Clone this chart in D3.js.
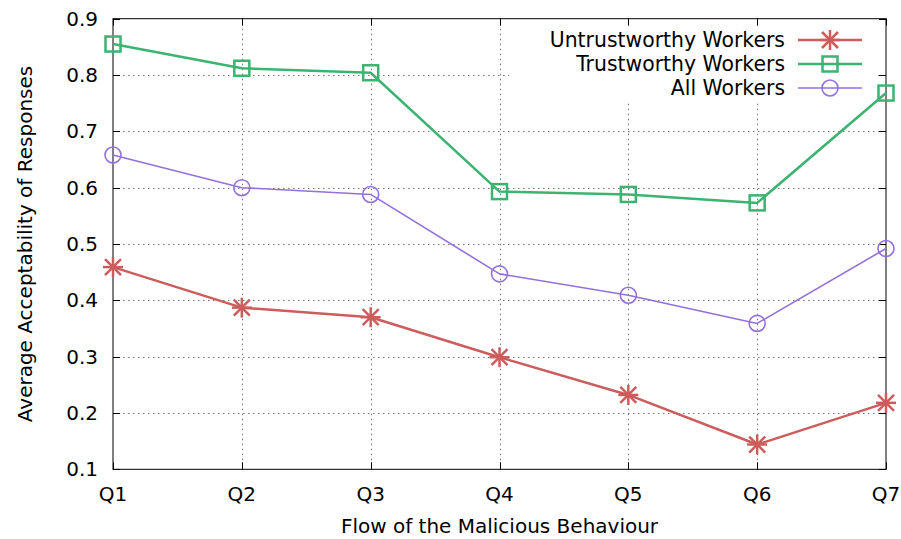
<!DOCTYPE html>
<html>
<head>
<meta charset="utf-8">
<script src="https://cdn.jsdelivr.net/npm/d3@7"></script>
<style>
  body { margin: 0; background: #fff; }
  text { font-family: "DejaVu Sans", sans-serif; fill: #000; }
</style>
</head>
<body>
<div id="main"></div>
<script>
// chart data
var categories = ["Q1", "Q2", "Q3", "Q4", "Q5", "Q6", "Q7"];
var yTicks = [0.1, 0.2, 0.3, 0.4, 0.5, 0.6, 0.7, 0.8, 0.9];
var untrustworthy = [0.459, 0.387, 0.370, 0.299, 0.232, 0.144, 0.218];
var trustworthy = [0.855, 0.812, 0.804, 0.593, 0.588, 0.573, 0.768];
var allWorkers = [0.658, 0.600, 0.588, 0.447, 0.409, 0.359, 0.492];

var seriesNames = ["Untrustworthy Workers", "Trustworthy Workers", "All Workers"];
var seriesValues = [untrustworthy, trustworthy, allWorkers];
var seriesColors = ["#cd5c5c", "#3cb371", "#9370db"];
var seriesWidths = [2.5, 2.5, 1.6];
var seriesSymbols = ["star", "square", "circle"];

var W = 901, H = 539;
var pLeft = 113, pRight = 886, pTop = 18.7, pBottom = 469.3;
var fontSize = "20px";

var svg = d3.select("#main").append("svg")
  .attr("width", W)
  .attr("height", H);

var x = d3.scalePoint().domain(categories).range([pLeft, pRight]);
var y = d3.scaleLinear().domain([0.1, 0.9]).range([pBottom, pTop]);

// grid
var grid = svg.append("g")
  .attr("stroke", "#777")
  .attr("stroke-width", 1)
  .attr("stroke-dasharray", "1.5,3.5");
grid.selectAll(".gx").data(categories.slice(1, -1)).enter().append("line")
  .attr("x1", function(d) { return Math.round(x(d)) + 0.5; })
  .attr("x2", function(d) { return Math.round(x(d)) + 0.5; })
  .attr("y1", pTop).attr("y2", pBottom);
grid.selectAll(".gy").data(yTicks.slice(1, -1)).enter().append("line")
  .attr("y1", function(d) { return Math.round(y(d)) + 0.5; })
  .attr("y2", function(d) { return Math.round(y(d)) + 0.5; })
  .attr("x1", pLeft).attr("x2", pRight);

// opaque key box
svg.append("rect")
  .attr("x", 509).attr("y", 21)
  .attr("width", 366).attr("height", 80)
  .attr("fill", "#fff");

// axes with mirrored inward ticks
var axes = svg.append("g").attr("stroke", "#000").attr("stroke-width", 1);
yTicks.forEach(function(t) {
  var yy = Math.round(y(t)) + 0.5;
  axes.append("line").attr("x1", pLeft).attr("x2", pLeft + 7).attr("y1", yy).attr("y2", yy);
  axes.append("line").attr("x1", pRight).attr("x2", pRight - 7).attr("y1", yy).attr("y2", yy);
});
categories.forEach(function(c) {
  var xx = Math.round(x(c)) + 0.5;
  axes.append("line").attr("x1", xx).attr("x2", xx).attr("y1", pBottom).attr("y2", pBottom - 7);
  axes.append("line").attr("x1", xx).attr("x2", xx).attr("y1", pTop).attr("y2", pTop + 7);
});
axes.append("rect")
  .attr("x", pLeft).attr("y", pTop)
  .attr("width", pRight - pLeft).attr("height", pBottom - pTop)
  .attr("fill", "none");

// tick labels
svg.selectAll(".ylab").data(yTicks).enter().append("text")
  .attr("x", pLeft - 15)
  .attr("y", function(d) { return y(d); })
  .attr("dy", "0.35em")
  .attr("text-anchor", "end")
  .style("font-size", fontSize)
  .text(function(d) { return d3.format(".1f")(d); });

svg.selectAll(".xlab").data(categories).enter().append("text")
  .attr("x", function(d) { return x(d); })
  .attr("y", 494)
  .attr("dy", "0.35em")
  .attr("text-anchor", "middle")
  .style("font-size", fontSize)
  .text(function(d) { return d; });

// axis titles
svg.append("text")
  .attr("x", (pLeft + pRight) / 2)
  .attr("y", 526)
  .attr("dy", "0.35em")
  .attr("text-anchor", "middle")
  .style("font-size", fontSize)
  .text("Flow of the Malicious Behaviour");

svg.append("text")
  .attr("transform", "translate(25," + ((pTop + pBottom) / 2) + ") rotate(-90)")
  .attr("dy", "0.35em")
  .attr("text-anchor", "middle")
  .style("font-size", fontSize)
  .text("Average Acceptability of Responses");

// symbols
function drawSymbol(g, type, cx, cy, color) {
  if (type === "star") {
    var r = 10, d = 8;
    var segs = [[-r, 0, r, 0], [0, -r, 0, r], [-d, -d, d, d], [-d, d, d, -d]];
    segs.forEach(function(s) {
      g.append("line")
        .attr("x1", cx + s[0]).attr("y1", cy + s[1])
        .attr("x2", cx + s[2]).attr("y2", cy + s[3])
        .attr("stroke", color).attr("stroke-width", 2.5);
    });
  } else if (type === "square") {
    g.append("rect")
      .attr("x", cx - 7.5).attr("y", cy - 7.5)
      .attr("width", 15).attr("height", 15)
      .attr("fill", "none").attr("stroke", color).attr("stroke-width", 2.5);
  } else {
    g.append("circle")
      .attr("cx", cx).attr("cy", cy).attr("r", 8)
      .attr("fill", "none").attr("stroke", color).attr("stroke-width", 1.6);
  }
}

var line = d3.line()
  .x(function(d, i) { return x(categories[i]); })
  .y(function(d) { return y(d); });

seriesValues.forEach(function(vals, k) {
  var g = svg.append("g");
  g.append("path")
    .attr("d", line(vals))
    .attr("fill", "none")
    .attr("stroke", seriesColors[k])
    .attr("stroke-width", seriesWidths[k])
    .attr("stroke-linejoin", "round");
  vals.forEach(function(v, i) {
    drawSymbol(g, seriesSymbols[k], x(categories[i]), y(v), seriesColors[k]);
  });
});

// legend
seriesNames.forEach(function(name, k) {
  var ly = 40 + k * 24;
  var g = svg.append("g");
  g.append("text")
    .attr("x", 785).attr("y", ly)
    .attr("dy", "0.35em")
    .attr("text-anchor", "end")
    .style("font-size", "20.4px")
    .text(name);
  g.append("line")
    .attr("x1", 798).attr("x2", 862).attr("y1", ly).attr("y2", ly)
    .attr("stroke", seriesColors[k]).attr("stroke-width", seriesWidths[k]);
  drawSymbol(g, seriesSymbols[k], 830, ly, seriesColors[k]);
});
</script>
</body>
</html>
